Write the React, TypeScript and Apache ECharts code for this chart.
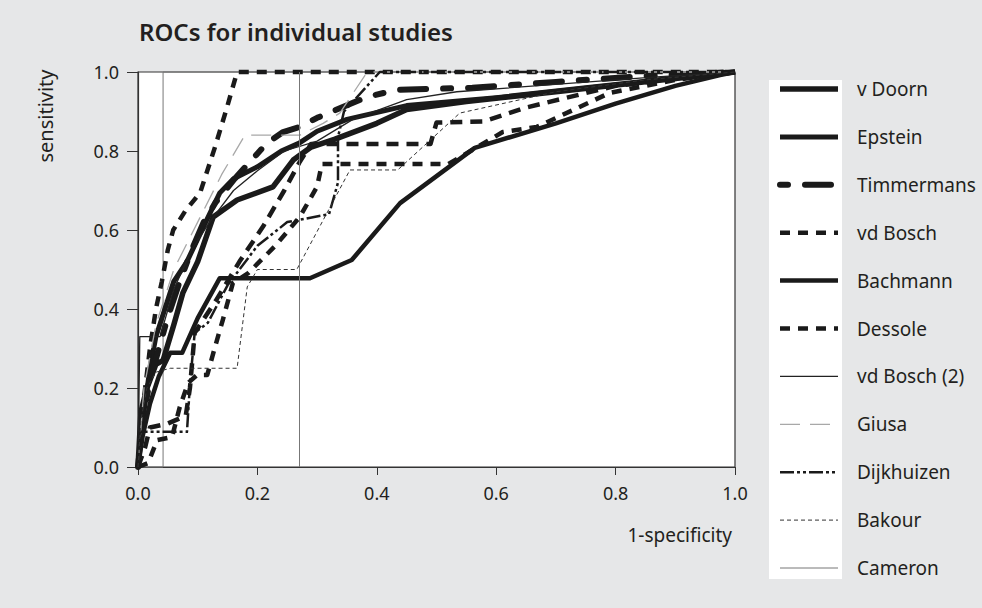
import React, { useEffect, useRef } from "react";
import * as echarts from "echarts";

const FONT = "'Noto Sans', 'Open Sans', sans-serif";
const TEXT = "#231f20";
const INK = "#1a1a1a";

const studyNames = [
  "v Doorn",
  "Epstein",
  "Timmermans",
  "vd Bosch",
  "Bachmann",
  "Dessole",
  "vd Bosch (2)",
  "Giusa",
  "Dijkhuizen",
  "Bakour",
  "Cameron",
];

const axisTicks = [0, 0.2, 0.4, 0.6, 0.8, 1.0];

// [1-specificity, sensitivity]
const vDoorn = [
  [0, 0], [0.005, 0.14], [0.015, 0.2], [0.03, 0.26], [0.042, 0.27], [0.06, 0.36], [0.075, 0.44],
  [0.1, 0.52], [0.126, 0.633], [0.166, 0.676], [0.226, 0.709], [0.26, 0.777], [0.29, 0.81],
  [0.33, 0.83], [0.4, 0.87], [0.45, 0.905], [0.55, 0.925], [0.7, 0.95], [0.85, 0.975], [1, 1],
];
const epstein = [
  [0, 0], [0.01, 0.14], [0.02, 0.25], [0.03, 0.33], [0.045, 0.4], [0.06, 0.47], [0.082, 0.52],
  [0.115, 0.625], [0.137, 0.694], [0.16, 0.73], [0.2, 0.76], [0.24, 0.8], [0.27, 0.82],
  [0.3, 0.85], [0.35, 0.88], [0.45, 0.915], [0.6, 0.935], [0.75, 0.96], [0.9, 0.985], [1, 1],
];
const timmermans = [
  [0, 0], [0.008, 0.12], [0.02, 0.22], [0.035, 0.3], [0.05, 0.38], [0.07, 0.47], [0.09, 0.55],
  [0.11, 0.62], [0.13, 0.67], [0.162, 0.73], [0.216, 0.82], [0.243, 0.848], [0.271, 0.861],
  [0.3, 0.884], [0.384, 0.937], [0.434, 0.955], [0.56, 0.96], [0.7, 0.975], [0.85, 0.99], [1, 1],
];
const vdBosch = [
  [0, 0], [0.005, 0.1], [0.012, 0.2], [0.02, 0.3], [0.03, 0.4], [0.04, 0.47], [0.05, 0.55],
  [0.059, 0.6], [0.08, 0.65], [0.104, 0.694], [0.129, 0.81], [0.149, 0.91], [0.166, 1.0], [1, 1],
];
const bachmann = [
  [0, 0], [0.008, 0.08], [0.02, 0.16], [0.035, 0.23], [0.054, 0.289], [0.074, 0.289],
  [0.1, 0.377], [0.137, 0.478], [0.288, 0.478], [0.358, 0.524], [0.439, 0.668], [0.564, 0.808],
  [0.7, 0.87], [0.8, 0.92], [0.9, 0.965], [0.975, 0.992], [1, 1],
];
const dessole = [
  [0, 0], [0.017, 0.01], [0.032, 0.068], [0.057, 0.076], [0.07, 0.152], [0.084, 0.213],
  [0.099, 0.233], [0.116, 0.233], [0.129, 0.304], [0.142, 0.372], [0.159, 0.466], [0.184, 0.49],
  [0.23, 0.56], [0.271, 0.633], [0.3, 0.71], [0.308, 0.767], [0.52, 0.767], [0.611, 0.848],
  [0.668, 0.861], [0.79, 0.947], [0.9, 0.98], [1, 1],
];
const dessoleSecond = [
  [0, 0], [0.012, 0.05], [0.02, 0.1], [0.05, 0.11], [0.08, 0.13], [0.087, 0.2], [0.095, 0.34],
  [0.13, 0.42], [0.17, 0.52], [0.21, 0.61], [0.245, 0.7], [0.27, 0.77], [0.29, 0.818],
  [0.49, 0.818], [0.5, 0.872], [0.58, 0.875], [0.65, 0.91], [0.8, 0.965], [1, 1],
];
const vdBosch2 = [
  [0, 0], [0.003, 0.33], [0.037, 0.33], [0.06, 0.45], [0.09, 0.55], [0.12, 0.62], [0.16, 0.7],
  [0.2, 0.75], [0.245, 0.8], [0.3, 0.825], [0.36, 0.88], [0.45, 0.93], [0.534, 0.95],
  [0.863, 0.987], [1, 1],
];
const giusa = [
  [0, 0], [0.01, 0.2], [0.03, 0.36], [0.06, 0.5], [0.1, 0.62], [0.14, 0.74], [0.179, 0.84],
  [0.271, 0.84], [0.31, 0.87], [0.338, 0.896], [0.384, 1.0], [1, 1],
];
const dijkhuizen = [
  [0, 0], [0.003, 0.089], [0.082, 0.089], [0.087, 0.21], [0.095, 0.34], [0.117, 0.365],
  [0.15, 0.46], [0.2, 0.56], [0.25, 0.62], [0.32, 0.64], [0.335, 0.72], [0.335, 0.835],
  [0.345, 0.9], [0.405, 1.0], [1, 1],
];
const bakour = [
  [0, 0], [0.005, 0.12], [0.015, 0.2], [0.03, 0.24], [0.054, 0.25], [0.166, 0.25],
  [0.183, 0.456], [0.2, 0.5], [0.266, 0.5], [0.355, 0.752], [0.435, 0.752], [0.539, 0.896],
  [0.7, 0.95], [0.85, 0.98], [1, 1],
];
const cameron = [
  [0, 0], [0.042, 0], [0.042, 1], [1, 1],
];
const cameronRefX = [0.265];

function curve(name: string, data: number[][], lineStyle: any, z: number, extra: any = {}) {
  return {
    type: "line",
    name,
    data,
    symbol: "none",
    showSymbol: false,
    clip: false,
    silent: true,
    z,
    lineStyle: { join: "round", ...lineStyle },
    emphasis: { disabled: true },
    ...extra,
  };
}

export default function App() {
  const ref = useRef<HTMLDivElement>(null);

  useEffect(() => {
    if (!ref.current) return;
    const chart = echarts.init(ref.current, undefined, { renderer: "svg" });

    const series = [
      curve("v Doorn", vDoorn, { color: INK, width: 5.5, type: "solid" }, 2),
      curve("Epstein", epstein, { color: INK, width: 5, type: "solid" }, 2),
      curve("Timmermans", timmermans, { color: INK, width: 6, type: [8, 17, 26, 17], cap: "round" }, 2),
      curve("vd Bosch", vdBosch, { color: INK, width: 4.5, type: [10, 8] }, 2),
      curve("Bachmann", bachmann, { color: INK, width: 4.5, type: "solid" }, 2),
      curve("Dessole", dessole, { color: INK, width: 4.5, type: [10, 8] }, 2),
      curve("Dessole", dessoleSecond, { color: INK, width: 4.5, type: [12, 8] }, 2),
      curve("vd Bosch (2)", vdBosch2, { color: "#222", width: 1.3, type: "solid" }, 3),
      curve("Giusa", giusa, { color: "#a8a8a8", width: 1.3, type: [20, 10] }, 3),
      curve("Dijkhuizen", dijkhuizen, { color: INK, width: 2.5, type: [14, 3, 3, 3, 3, 3] }, 3),
      curve("Bakour", bakour, { color: "#333", width: 1, type: [4, 3] }, 3),
      curve("Cameron", cameron, { color: "#777", width: 1, type: "solid" }, 1, {
        markLine: {
          silent: true,
          symbol: "none",
          label: { show: false },
          lineStyle: { color: "#777", width: 1, type: "solid" },
          data: cameronRefX.map((x) => ({ xAxis: x })),
        },
      }),
    ];

    chart.setOption({
      animation: false,
      backgroundColor: "#e6e7e8",
      textStyle: { fontFamily: FONT },
      title: {
        text: "ROCs for individual studies",
        left: 134,
        top: 14,
        textStyle: { fontFamily: FONT, fontSize: 24, fontWeight: 600, color: TEXT },
      },
      grid: {
        left: 138,
        top: 72,
        width: 597,
        height: 395,
        show: true,
        backgroundColor: "#ffffff",
        borderColor: "#333",
        borderWidth: 1.2,
      },
      xAxis: {
        type: "value",
        min: 0,
        max: 1,
        interval: 0.2,
        axisLine: { show: true, onZero: false, lineStyle: { color: "#333", width: 1.2 } },
        axisTick: { show: true, inside: false, length: 8, lineStyle: { color: "#333" } },
        axisLabel: {
          fontFamily: FONT,
          fontSize: 18,
          color: TEXT,
          margin: 17,
          formatter: (v: number) => (axisTicks.includes(Math.round(v * 10) / 10) ? v.toFixed(1) : ""),
        },
        splitLine: { show: false },
      },
      yAxis: {
        type: "value",
        min: 0,
        max: 1,
        interval: 0.2,
        axisLine: { show: true, onZero: false, lineStyle: { color: "#333", width: 1.2 } },
        axisTick: { show: true, inside: false, length: 11, lineStyle: { color: "#333" } },
        axisLabel: {
          fontFamily: FONT,
          fontSize: 18,
          color: TEXT,
          margin: 19,
          formatter: (v: number) => v.toFixed(1),
        },
        splitLine: { show: false },
      },
      legend: {
        orient: "vertical",
        left: 772,
        top: 74,
        itemWidth: 58,
        itemHeight: 20,
        itemGap: 27.9,
        selectedMode: false,
        data: studyNames,
        itemStyle: { opacity: 0 },
        lineStyle: { width: "inherit" },
        textStyle: {
          fontFamily: FONT,
          fontSize: 19,
          color: TEXT,
          lineHeight: 20,
          padding: [0, 0, 0, 14],
        },
      },
      graphic: [
        {
          type: "rect",
          left: 769,
          top: 80,
          z: 0,
          shape: { width: 73, height: 499 },
          style: { fill: "#ffffff" },
        },
        {
          type: "text",
          x: 45,
          y: 116,
          rotation: Math.PI / 2,
          style: {
            text: "sensitivity",
            fontFamily: FONT,
            fontSize: 20,
            fill: TEXT,
            align: "center",
            verticalAlign: "middle",
          },
        },
        {
          type: "text",
          x: 732,
          y: 535,
          style: {
            text: "1-specificity",
            fontFamily: FONT,
            fontSize: 19,
            fill: TEXT,
            align: "right",
            verticalAlign: "middle",
          },
        },
      ],
      series,
    });

    return () => {
      chart.dispose();
    };
  }, []);

  return (
    <div
      ref={ref}
      style={{ position: "fixed", left: 0, top: 0, width: 982, height: 608 }}
    />
  );
}
